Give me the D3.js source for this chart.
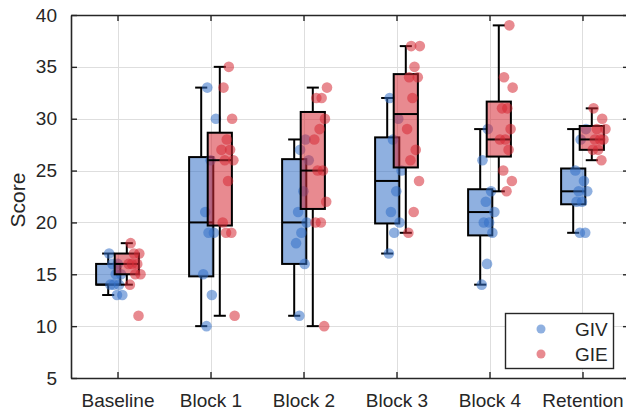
<!DOCTYPE html>
<html>
<head>
<meta charset="utf-8">
<script src="https://cdn.jsdelivr.net/npm/d3@7"></script>
<style>
    body { margin: 0; background: #fff; }
    svg text { font-family: "Liberation Sans", Arial, sans-serif; fill: #262626; }
</style>
</head>
<body>
<div id="content"></div>
<script>
var categories = ["Baseline", "Block 1", "Block 2", "Block 3", "Block 4", "Retention"];
var seriesNames = ["GIV", "GIE"];
var yTicks = [5, 10, 15, 20, 25, 30, 35, 40];

// individual scores per category
var givScores = [
    [17, 16, 16, 15, 15, 14, 14, 14, 13, 13],
    [33, 30, 26, 21, 19, 19, 15, 13, 10],
    [28, 27, 26, 23, 21, 20, 19, 18, 16, 11],
    [32, 30, 28, 25, 23, 21, 20, 19, 17],
    [29, 26, 23, 22, 21, 20, 20, 19, 16, 14],
    [29, 28, 25, 24, 23, 23, 22, 22, 19, 19]
];
var gieScores = [
    [18, 17, 17, 16, 16, 16, 15, 15, 14, 11],
    [35, 33, 30, 28, 27, 27, 26, 26, 24, 20, 19, 19, 11],
    [33, 32, 32, 30, 29, 28, 25, 25, 22, 20, 20, 10],
    [37, 37, 35, 34, 34, 32, 29, 27, 26, 24, 21, 19],
    [39, 34, 33, 31, 31, 29, 28, 28, 27, 25, 24, 23],
    [31, 30, 29, 29, 28, 28, 28, 27, 27, 26]
];

// box stats: [whisker low, q1, median, q3, whisker high]
var givBox = [
    [13, 14, 14, 16, 17],
    [10, 14.8, 20, 26.3, 33],
    [11, 16, 20, 26.1, 28],
    [17, 19.9, 24, 28.2, 32],
    [14, 18.75, 21, 23.2, 29],
    [19, 21.75, 23, 25.2, 29]
];
var gieBox = [
    [14, 15, 16, 17, 18],
    [11, 19.7, 26, 28.65, 35],
    [10, 21.3, 25, 30.65, 33],
    [19, 25.3, 30.45, 34.3, 37],
    [23, 26.35, 28, 31.65, 39],
    [26, 27, 28, 29.3, 31]
];

(() => {
    var W = 626, H = 410;
    var left = 71, top = 15, right = 629, bottom = 378;

    var x = d3.scaleLinear().domain([0.5, 6.5]).range([left, right]);
    var y = d3.scaleLinear().domain([5, 40]).range([bottom, top]);

    var groups = [
        { name: seriesNames[0], scores: givScores, box: givBox, color: "rgb(51,111,199)", off: -0.1 },
        { name: seriesNames[1], scores: gieScores, box: gieBox, color: "rgb(213,42,53)", off: 0.1 }
    ];
    var boxW = 0.26;

    var svg = d3.select("#content").append("svg")
        .attr("width", W)
        .attr("height", H);

    // grid
    var grid = svg.append("g").attr("stroke", "#dedede").attr("stroke-width", 1);
    grid.selectAll("line.h").data(yTicks.slice(1, -1)).enter().append("line")
        .attr("x1", left).attr("x2", right)
        .attr("y1", d => Math.round(y(d)) + 0.5).attr("y2", d => Math.round(y(d)) + 0.5);
    grid.selectAll("line.v").data(categories).enter().append("line")
        .attr("x1", (d, i) => Math.round(x(i + 1)) + 0.5).attr("x2", (d, i) => Math.round(x(i + 1)) + 0.5)
        .attr("y1", top).attr("y2", bottom);

    // axes
    var yAxis = d3.axisLeft(y).tickValues(yTicks).tickSizeInner(-6).tickSizeOuter(0).tickPadding(14);
    var yAxisR = d3.axisRight(y).tickValues(yTicks).tickSizeInner(-6).tickSizeOuter(0).tickFormat("");
    var xAxis = d3.axisBottom(x).tickValues([1, 2, 3, 4, 5, 6]).tickSizeInner(-6).tickSizeOuter(0)
        .tickPadding(16).tickFormat((d) => categories[d - 1]);
    var xAxisT = d3.axisTop(x).tickValues([1, 2, 3, 4, 5, 6]).tickSizeInner(-6).tickSizeOuter(0).tickFormat("");

    var axes = [
        svg.append("g").attr("transform", "translate(" + left + ",0)").call(yAxis),
        svg.append("g").attr("transform", "translate(" + right + ",0)").call(yAxisR),
        svg.append("g").attr("transform", "translate(0," + bottom + ")").call(xAxis),
        svg.append("g").attr("transform", "translate(0," + top + ")").call(xAxisT)
    ];
    axes.forEach(function (a) {
        a.select(".domain").attr("stroke", "#262626").attr("stroke-width", 1.6);
        a.selectAll(".tick line").attr("stroke", "#262626").attr("stroke-width", 1.4);
        a.selectAll(".tick text").attr("font-size", 19).attr("fill", "#262626")
            .style("font-family", "'Liberation Sans', Arial, sans-serif");
    });

    svg.append("text")
        .attr("transform", "translate(25,200) rotate(-90)")
        .attr("text-anchor", "middle")
        .style("font-size", "21px")
        .text("Score");

    // boxes + points
    groups.forEach(function (g, gi) {
        var layer = svg.append("g");
        g.box.forEach(function (b, i) {
            var cx = x(i + 1 + g.off);
            var hw = (x(boxW) - x(0)) / 2;
            var bx = layer.append("g").attr("stroke", "#000").attr("stroke-width", 2);
            bx.append("line").attr("x1", cx).attr("x2", cx).attr("y1", y(b[4])).attr("y2", y(b[3]));
            bx.append("line").attr("x1", cx).attr("x2", cx).attr("y1", y(b[1])).attr("y2", y(b[0]));
            bx.append("line").attr("x1", cx - hw / 2).attr("x2", cx + hw / 2).attr("y1", y(b[4])).attr("y2", y(b[4]));
            bx.append("line").attr("x1", cx - hw / 2).attr("x2", cx + hw / 2).attr("y1", y(b[0])).attr("y2", y(b[0]));
            bx.append("rect")
                .attr("x", cx - hw).attr("width", hw * 2)
                .attr("y", y(b[3])).attr("height", y(b[1]) - y(b[3]))
                .attr("fill", g.color).attr("fill-opacity", 0.55);
            bx.append("line").attr("x1", cx - hw).attr("x2", cx + hw).attr("y1", y(b[2])).attr("y2", y(b[2]));
        });
        g.scores.forEach(function (arr, i) {
            layer.selectAll(null).data(arr).enter().append("circle")
                .attr("cx", function (d, k) {
                    // fixed pseudo-jitter to the right of box centre
                    var j = ((k * 0.6180339 + i * 0.37 + gi * 0.21) % 1);
                    return x(i + 1 + g.off + 0.01 + j * 0.15);
                })
                .attr("cy", d => y(d))
                .attr("r", 5.3)
                .attr("fill", g.color)
                .attr("fill-opacity", 0.55);
        });
    });

    // legend
    var lg = svg.append("g");
    lg.append("rect").attr("x", 505.5).attr("y", 313.5).attr("width", 108).attr("height", 55)
        .attr("fill", "#fff").attr("stroke", "#262626").attr("stroke-width", 1.4);
    groups.forEach(function (g, i) {
        lg.append("circle").attr("cx", 541).attr("cy", 329 + i * 25).attr("r", 4.5)
            .attr("fill", g.color).attr("fill-opacity", 0.55);
        lg.append("text").attr("x", 575).attr("y", 336 + i * 25).attr("font-size", 19).text(g.name);
    });
})();
</script>
</body>
</html>
